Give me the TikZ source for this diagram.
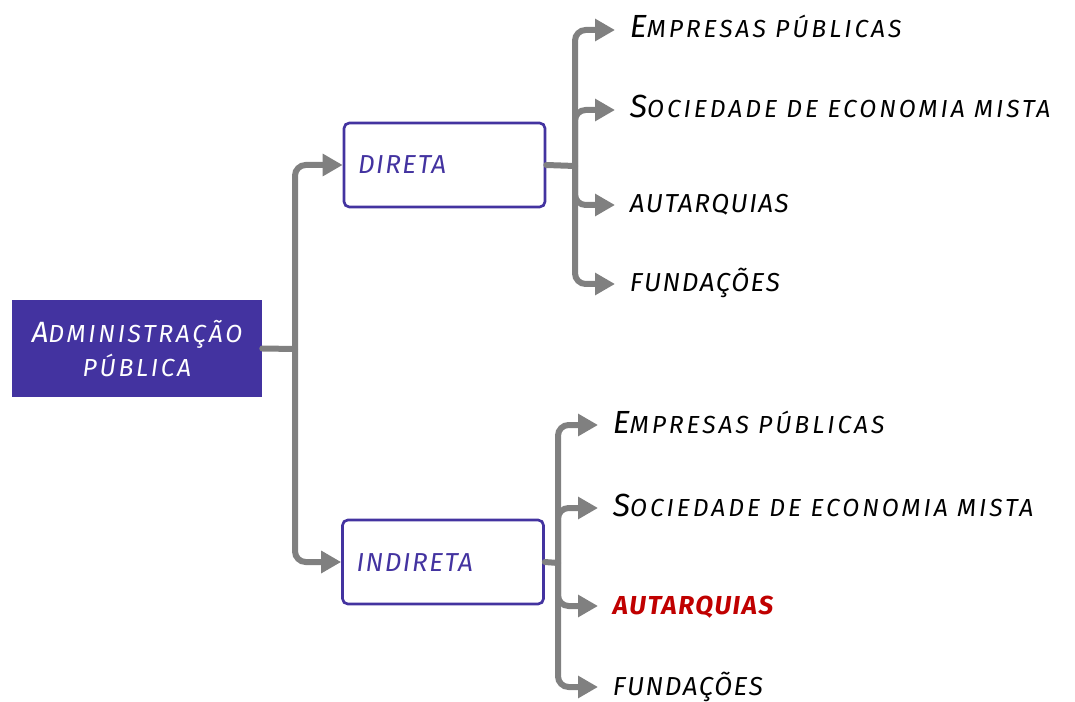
\documentclass[tikz,border=0pt]{standalone}
\usepackage{fontspec}
\setmainfont{Fira Sans}[LetterSpace=6]
\usetikzlibrary{arrows.meta,positioning}
\definecolor{adminblue}{HTML}{4333A0}
\definecolor{linegray}{HTML}{808080}
\definecolor{hotred}{HTML}{C00000}
% big first letter, small caps for the rest
\newcommand{\capsc}[2]{{\addfontfeature{LetterSpace=12}{\fontsize{24}{26}\selectfont #1}{\fontsize{18.5}{26}\selectfont #2}}}
\newcommand{\admsc}[2]{{\addfontfeature{LetterSpace=11}{\fontsize{22}{26}\selectfont #1}{\fontsize{18.5}{26}\selectfont #2}}}

\begin{document}
\begin{tikzpicture}[x=0.75pt,y=-0.75pt,
	branch/.style={line width=4.5pt,draw=linegray,rounded corners=8pt,line cap=round},
	conn/.style={branch,-{Triangle[length=15pt,width=16pt]}},
	kind/.style={draw=adminblue,line width=2pt,rounded corners=4pt,minimum height=63pt,
		text width=129.75pt,inner xsep=10.5pt,align=left,text height=13.5pt,text depth=0pt,
		font=\itshape\fontsize{19.5}{22}\selectfont,text=adminblue},
	leaf/.style={anchor=west,inner xsep=11pt,inner ysep=2pt,text height=12pt,text depth=0pt,
		font=\itshape\fontsize{19.5}{22}\selectfont}]
	
	\useasboundingbox (0,0) rectangle (1075,702);
	
	% Root
	\node[fill=adminblue,text=white,minimum width=187.5pt,minimum height=72.75pt,
		align=center,font=\itshape\fontsize{18.5}{26}\selectfont] (admin) at (137,348.5)
		{\admsc{A}{DMINISTRAÇÃO}\\\admsc{}{PÚBLICA}};
	
	% Kinds
	\node[kind] (direta) at (444.5,165) {DIRETA};
	\node[kind] (indireta) at (443,562) {INDIRETA};
	
	% Leaves of direta
	\node[leaf] (empD) at (615,30) {\capsc{E}{MPRESAS PÚBLICAS}};
	\node[leaf] (socD) at (615,110) {\capsc{S}{OCIEDADE DE ECONOMIA MISTA}};
	\node[leaf] (autD) at (615,205) {AUTARQUIAS};
	\node[leaf] (funD) at (615,284) {FUNDAÇÕES};
	
	% Leaves of indireta
	\node[leaf] (empI) at (598,425) {\capsc{E}{MPRESAS PÚBLICAS}};
	\node[leaf] (socI) at (598,508) {\capsc{S}{OCIEDADE DE ECONOMIA MISTA}};
	\node[leaf,text=hotred,font=\itshape\bfseries\fontsize{19.5}{22}\selectfont] (autI) at (598,606) {AUTARQUIAS};
	\node[leaf] (funI) at (598,687) {FUNDAÇÕES};
	
	% Junctions
	\coordinate (jA) at (295,349);
	\coordinate (jD) at (575,166);
	\coordinate (jI) at (558,563);
	
	% Trunk
	\draw[branch] (admin.east) -- (jA);
	\draw[conn] (jA) |- (direta.west);
	\draw[conn] (jA) |- (indireta.west);
	
	% Branches
	\draw[branch] (direta.east) -- (jD);
	\foreach \leafname in {empD,socD,autD,funD}
		\draw[conn] (jD) |- (\leafname.west);
	\draw[branch] (indireta.east) -- (jI);
	\foreach \leafname in {empI,socI,autI,funI}
		\draw[conn] (jI) |- (\leafname.west);
	
\end{tikzpicture}
\end{document}
